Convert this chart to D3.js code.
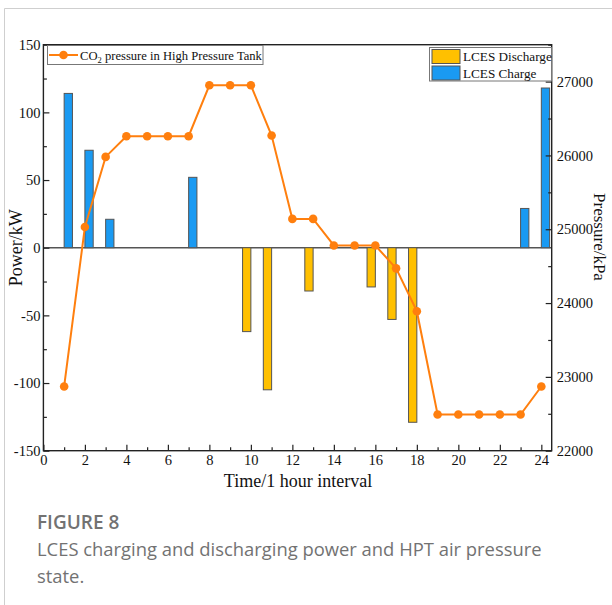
<!DOCTYPE html>
<html>
<head>
<meta charset="utf-8">
<script src="https://cdnjs.cloudflare.com/ajax/libs/d3/7.8.5/d3.min.js"></script>
<style>
body { margin:0; background:#fff; }
svg text { font-family: "Liberation Serif", "Times New Roman", serif; fill:#111; }
svg text.cap { font-family: "Open Sans", "Noto Sans", sans-serif; fill:#727272; }
</style>
</head>
<body>
<div id="chart"></div>
<script>
var width = 612,
    height = 605;

// hourly data
var hours = d3.range(1, 25);
var charge    = [114, 72, 21, 0, 0, 0, 52, 0, 0, 0, 0, 0, 0, 0, 0, 0, 0, 0, 0, 0, 0, 0, 29, 118];
var discharge = [0, 0, 0, 0, 0, 0, 0, 0, 0, -62, -105, 0, -32, 0, 0, -29, -53, -129, 0, 0, 0, 0, 0, 0];
var pressure  = [22870, 25030, 25980, 26260, 26260, 26260, 26260, 26950, 26950, 26950, 26270, 25140, 25140,
                 24780, 24780, 24780, 24470, 23890, 22490, 22490, 22490, 22490, 22490, 22870];

var xTicks = d3.range(0, 25, 2);
var yTicks = [-150, -100, -50, 0, 50, 100, 150];
var pTicks = [22000, 23000, 24000, 25000, 26000, 27000];

var pl = 43.4, pr = 551.7, pt = 44.7, pb = 450.7;

var x = d3.scaleLinear().domain([0, 24.5]).range([pl, pr]);
var y = d3.scaleLinear().domain([-150, 150]).range([pb, pt]);
var yP = d3.scaleLinear().domain([22000, 27500]).range([pb, pt]);

var svg = d3.select("#chart").append("svg")
    .attr("width", width)
    .attr("height", height);

// page frame
svg.append("line").attr("x1", 4.5).attr("x2", 4.5).attr("y1", 8.5).attr("y2", height)
    .attr("stroke", "#cfcfcf");
svg.append("line").attr("x1", 4.5).attr("x2", width).attr("y1", 8.5).attr("y2", 8.5)
    .attr("stroke", "#cfcfcf");

var discColor = "#FFC000", chargeColor = "#1A9AF2", lineColor = "#FF7F0E";
var barW = x(0.4) - x(0);

// zero line
svg.append("line")
    .attr("x1", pl).attr("x2", pr)
    .attr("y1", y(0)).attr("y2", y(0))
    .attr("stroke", "#555").attr("stroke-width", 1.5);

// bars
svg.selectAll(".disc")
    .data(hours.filter(function(h, i){ return discharge[i] !== 0; }))
    .enter().append("rect")
    .attr("class", "disc")
    .attr("x", function(h){ return x(h - 0.4); })
    .attr("width", barW)
    .attr("y", y(0))
    .attr("height", function(h){ return y(discharge[h - 1]) - y(0); })
    .attr("fill", discColor)
    .attr("stroke", "#555").attr("stroke-width", 1);

svg.selectAll(".chg")
    .data(hours.filter(function(h, i){ return charge[i] !== 0; }))
    .enter().append("rect")
    .attr("class", "chg")
    .attr("x", function(h){ return x(h); })
    .attr("width", barW)
    .attr("y", function(h){ return y(charge[h - 1]); })
    .attr("height", function(h){ return y(0) - y(charge[h - 1]); })
    .attr("fill", chargeColor)
    .attr("stroke", "#555").attr("stroke-width", 1);

// pressure line
var line = d3.line()
    .x(function(d, i){ return x(hours[i]); })
    .y(function(d){ return yP(d); });

svg.append("path")
    .datum(pressure)
    .attr("d", line)
    .attr("fill", "none")
    .attr("stroke", lineColor)
    .attr("stroke-width", 2);

svg.selectAll(".pt")
    .data(pressure)
    .enter().append("circle")
    .attr("class", "pt")
    .attr("cx", function(d, i){ return x(hours[i]); })
    .attr("cy", function(d){ return yP(d); })
    .attr("r", 4.3)
    .attr("fill", lineColor);

// frame
svg.append("rect")
    .attr("x", pl).attr("y", pt)
    .attr("width", pr - pl).attr("height", pb - pt)
    .attr("fill", "none").attr("stroke", "#222").attr("stroke-width", 1.4);

// axes with inward ticks
var plain = function(d){ return String(d); };

var xAxis = svg.append("g").attr("transform", "translate(0," + pb + ")")
    .call(d3.axisBottom(x).tickValues(d3.range(0, 25, 1)).tickSize(-5).tickFormat(""));
xAxis.selectAll(".tick line").attr("y2", function(d){ return d % 2 === 0 ? -6 : -3.5; });
var xLab = svg.append("g").attr("transform", "translate(0," + pb + ")")
    .call(d3.axisBottom(x).tickValues(xTicks).tickSize(0).tickPadding(4).tickFormat(plain));

var yAxis = svg.append("g").attr("transform", "translate(" + pl + ",0)")
    .call(d3.axisLeft(y).tickValues(d3.range(-150, 151, 25)).tickSize(-5).tickFormat(""));
yAxis.selectAll(".tick line").attr("x2", function(d){ return d % 50 === 0 ? 6 : 3.5; });
var yLab = svg.append("g").attr("transform", "translate(" + pl + ",0)")
    .call(d3.axisLeft(y).tickValues(yTicks).tickSize(0).tickPadding(3).tickFormat(plain));

var pAxis = svg.append("g").attr("transform", "translate(" + pr + ",0)")
    .call(d3.axisRight(yP).tickValues(d3.range(22000, 27501, 500)).tickSize(-5).tickFormat(""));
pAxis.selectAll(".tick line").attr("x2", function(d){ return d % 1000 === 0 ? -6 : -3.5; });
var pLab = svg.append("g").attr("transform", "translate(" + pr + ",0)")
    .call(d3.axisRight(yP).tickValues(pTicks).tickSize(0).tickPadding(5).tickFormat(plain));

svg.selectAll(".domain").remove();
svg.selectAll(".tick line").attr("stroke", "#222").attr("stroke-width", 1.2);
svg.selectAll(".tick text")
    .attr("font-family", "Liberation Serif, serif")
    .attr("font-size", 14.5)
    .attr("fill", "#111");

// axis titles
svg.append("text")
    .attr("x", 298).attr("y", 487)
    .attr("text-anchor", "middle").attr("font-size", 18)
    .text("Time/1 hour interval");
svg.append("text")
    .attr("transform", "translate(22," + y(0) + ") rotate(-90)")
    .attr("text-anchor", "middle").attr("font-size", 18)
    .text("Power/kW");
svg.append("text")
    .attr("transform", "translate(594,237) rotate(90)")
    .attr("text-anchor", "middle").attr("font-size", 17)
    .text("Pressure/kPa");

// legend: pressure line
var lg1 = svg.append("g");
lg1.append("rect").attr("x", 47.5).attr("y", 45.5).attr("width", 215.5).attr("height", 19)
    .attr("fill", "#fff").attr("stroke", "#777");
lg1.append("line").attr("x1", 49).attr("x2", 78).attr("y1", 55).attr("y2", 55)
    .attr("stroke", lineColor).attr("stroke-width", 2);
lg1.append("circle").attr("cx", 63.5).attr("cy", 55).attr("r", 4.3).attr("fill", lineColor);
var t1 = lg1.append("text").attr("x", 80).attr("y", 59.5).attr("font-size", 12.6);
t1.append("tspan").text("CO");
t1.append("tspan").attr("font-size", 8.5).attr("dy", 3).text("2");
t1.append("tspan").attr("dy", -3).text(" pressure in High Pressure Tank");

// legend: bars
var lg2 = svg.append("g");
lg2.append("rect").attr("x", 429.5).attr("y", 47.5).attr("width", 122).attr("height", 33.5)
    .attr("fill", "#fff").attr("stroke", "#777");
var items = [["LCES Discharge", discColor], ["LCES Charge", chargeColor]];
items.forEach(function(it, i){
    lg2.append("rect").attr("x", 432).attr("y", 49.5 + i * 16.5).attr("width", 28).attr("height", 14)
        .attr("fill", it[1]).attr("stroke", "#555");
    lg2.append("text").attr("x", 463).attr("y", 61 + i * 16.5).attr("font-size", 13.2)
        .text(it[0]);
});

// caption
svg.append("text").attr("class", "cap").attr("x", 37).attr("y", 529)
    .attr("font-size", 19).attr("font-weight", 600).attr("fill", "#666").text("FIGURE 8");
svg.append("text").attr("class", "cap").attr("x", 37).attr("y", 556)
    .attr("font-size", 18.4).text("LCES charging and discharging power and HPT air pressure");
svg.append("text").attr("class", "cap").attr("x", 37).attr("y", 583)
    .attr("font-size", 18.4).text("state.");
</script>
</body>
</html>
